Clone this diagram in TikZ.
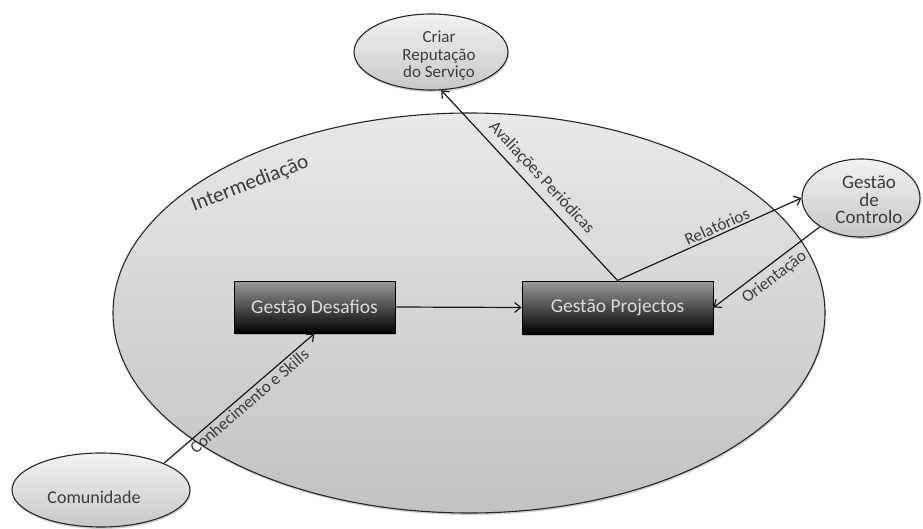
\documentclass[tikz,border=0pt]{standalone}
\usepackage{fontspec}
\setmainfont{Carlito}
\usetikzlibrary{arrows.meta,shapes.geometric,shadows}

\definecolor{ink}{HTML}{3C3C3C}
\definecolor{boxtext}{HTML}{DCDCDC}
\definecolor{boxtop}{HTML}{9A9A9A}
\definecolor{boxmid}{HTML}{3A3A3A}
\definecolor{bigtop}{HTML}{E8E8E8}
\definecolor{bigbot}{HTML}{C2C2C2}
\definecolor{smalltop}{HTML}{F2F2F2}
\definecolor{smallbot}{HTML}{C8C8C8}

\begin{document}
\begin{tikzpicture}[x=1pt,y=-1pt,
  softshadow/.style={drop shadow={shadow xshift=0.8pt, shadow yshift=-2pt,
    opacity=0.18, fill=black}},
  bubble/.style={ellipse, draw=black!85, line width=1.1pt, softshadow,
    top color=smalltop, bottom color=smallbot, inner sep=0pt},
  bubbletext/.style={align=center, text=ink},
  taskbox/.style={rectangle, draw=black, line width=1pt, softshadow,
    top color=boxtop, middle color=boxmid, bottom color=black,
    text=boxtext, font=\fontsize{19.5}{22}\selectfont, inner sep=0pt},
  link/.style={line width=1.2pt, draw=black!90,
    -{Straight Barb[length=6pt,width=10pt]}},
  lbl/.style={font=\fontsize{17}{19}\selectfont, text=ink, sloped, inner sep=2pt}
]
\useasboundingbox (0,0) rectangle (923,529);

% the intermediation area
\node[bubble, top color=bigtop, bottom color=bigbot,
      minimum width=712pt, minimum height=400pt] (inter) at (469,313) {};
\node[font=\fontsize{21}{24}\selectfont, text=ink, rotate=21] (intertxt)
      at (250,184) {Intermediação};

% outer actors
\node[bubble, minimum width=154pt, minimum height=76pt] (crs) at (431,52) {};
\node[bubbletext, font=\fontsize{17}{17.5}\selectfont] (crstxt) at (439,56)
      {Criar\\Reputação\\do Serviço};

\node[bubble, minimum width=118pt, minimum height=78pt] (ctl) at (861,198) {};
\node[bubbletext, font=\fontsize{19}{17.5}\selectfont] (ctltxt) at (869,200)
      {Gestão\\de\\Controlo};

\node[bubble, minimum width=178pt, minimum height=74pt] (com) at (101,490) {};
\node[bubbletext, font=\fontsize{18}{20}\selectfont] (comtxt) at (94,497)
      {Comunidade};

% management processes
\node[taskbox, minimum width=161pt, minimum height=52pt] (des) at (314.5,307)
      {Gestão Desafios};
\node[taskbox, minimum width=191pt, minimum height=53pt] (prj) at (617.5,307.5)
      {Gestão Projectos};

% flows
\draw[link] (des.east) -- (prj.west);
\draw[link] (com.23) -- (des.south)
      node[lbl, pos=0.53, below] (lknow) {Conhecimento e Skills};
\draw[link] (prj.north) -- (crs.-75)
      node[lbl, pos=0.49, above=4pt] (leval) {Avaliações Periódicas};
\draw[link] (prj.north) -- (ctl.west)
      node[lbl, pos=0.56, above] (lrep) {Relatórios};
\draw[link] (ctl.-145) -- (prj.east)
      node[lbl, pos=0.5, below=3pt] (lori) {Orientação};
\end{tikzpicture}
\end{document}
